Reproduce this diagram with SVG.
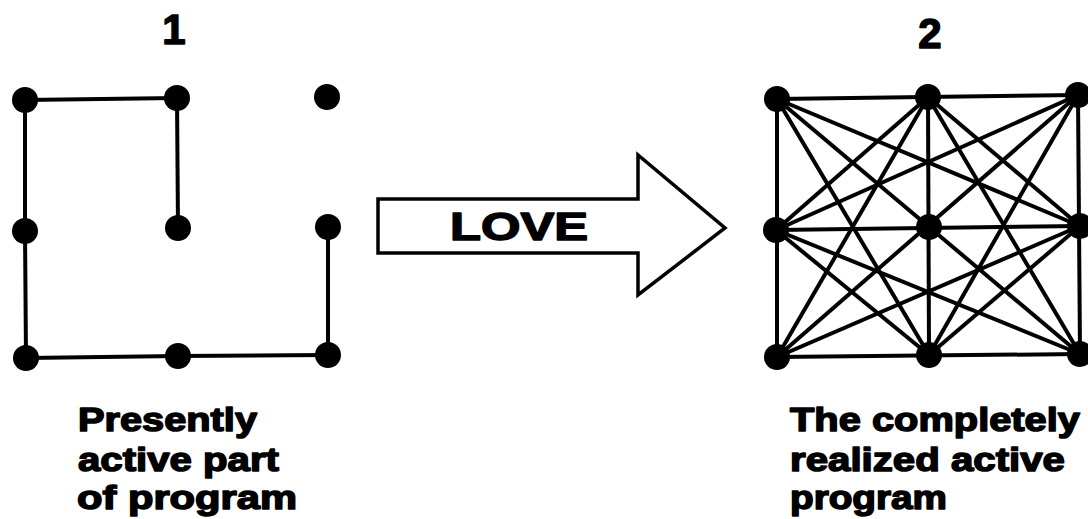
<svg xmlns="http://www.w3.org/2000/svg" width="1088" height="519" viewBox="0 0 1088 519">
<style>
.t{font-family:"Liberation Sans",Arial,sans-serif;font-weight:bold;fill:#000;stroke:#000;stroke-width:1.5;stroke-linejoin:round}
.e{stroke:#000;stroke-width:4;fill:none}
.d{fill:#000}
</style>
<rect width="1088" height="519" fill="#fff"/>
<text class="t" x="174" y="44" font-size="42" text-anchor="middle">1</text>
<text class="t" x="930" y="48" font-size="42" text-anchor="middle">2</text>
<g id="connectors">
<g id="left-edges" class="e">
<line x1="25" y1="100" x2="177" y2="98"/>
<line x1="25" y1="100" x2="25" y2="231"/>
<line x1="25" y1="231" x2="26" y2="358"/>
<line x1="177" y1="98" x2="178" y2="228"/>
<line x1="26" y1="358" x2="178" y2="356"/>
<line x1="178" y1="356" x2="328" y2="355"/>
<line x1="328" y1="355" x2="328" y2="227"/>
</g>
<g id="right-edges" class="e">
<line x1="777" y1="99" x2="1078" y2="95"/>
<line x1="776" y1="230" x2="1080" y2="226"/>
<line x1="777" y1="357" x2="1080" y2="354"/>
<line x1="777" y1="99" x2="777" y2="357"/>
<line x1="928" y1="97" x2="929" y2="355"/>
<line x1="1078" y1="95" x2="1080" y2="354"/>
<line x1="777" y1="99" x2="1080" y2="354"/>
<line x1="1078" y1="95" x2="777" y2="357"/>
<line x1="777" y1="99" x2="1080" y2="226"/>
<line x1="777" y1="99" x2="929" y2="355"/>
<line x1="928" y1="97" x2="776" y2="230"/>
<line x1="928" y1="97" x2="1080" y2="226"/>
<line x1="928" y1="97" x2="777" y2="357"/>
<line x1="928" y1="97" x2="1080" y2="354"/>
<line x1="1078" y1="95" x2="776" y2="230"/>
<line x1="1078" y1="95" x2="929" y2="355"/>
<line x1="776" y1="230" x2="929" y2="355"/>
<line x1="776" y1="230" x2="1080" y2="354"/>
<line x1="1080" y1="226" x2="929" y2="355"/>
<line x1="1080" y1="226" x2="777" y2="357"/>
</g>
</g>
<g id="left-grid">
<circle id="l1" class="d" cx="25" cy="100" r="13"/>
<circle id="l2" class="d" cx="177" cy="98" r="13"/>
<circle id="l3" class="d" cx="327" cy="97" r="13"/>
<circle id="l4" class="d" cx="25" cy="231" r="13"/>
<circle id="l5" class="d" cx="178" cy="228" r="13"/>
<circle id="l6" class="d" cx="328" cy="227" r="13"/>
<circle id="l7" class="d" cx="26" cy="358" r="13"/>
<circle id="l8" class="d" cx="178" cy="356" r="13"/>
<circle id="l9" class="d" cx="328" cy="355" r="13"/>
</g>
<g id="right-grid">
<circle id="r1" class="d" cx="777" cy="99" r="13"/>
<circle id="r2" class="d" cx="928" cy="97" r="13"/>
<circle id="r3" class="d" cx="1078" cy="95" r="13"/>
<circle id="r4" class="d" cx="776" cy="230" r="13"/>
<circle id="r5" class="d" cx="929" cy="227" r="13"/>
<circle id="r6" class="d" cx="1080" cy="226" r="13"/>
<circle id="r7" class="d" cx="777" cy="357" r="13"/>
<circle id="r8" class="d" cx="929" cy="355" r="13"/>
<circle id="r9" class="d" cx="1080" cy="354" r="13"/>
</g>
<g id="love-arrow">
<polygon points="378,199 638,199 638,155 725,228 638,295 638,253 378,253" fill="#fff" stroke="#000" stroke-width="3.5" stroke-linejoin="miter"/>
<text class="t" x="450" y="240" font-size="39" textLength="138" lengthAdjust="spacingAndGlyphs">LOVE</text>
</g>
<g id="left-caption">
<text class="t" x="78" y="431" font-size="33" textLength="179" lengthAdjust="spacingAndGlyphs">Presently</text>
<text class="t" x="78" y="471" font-size="33" textLength="201" lengthAdjust="spacingAndGlyphs">active part</text>
<text class="t" x="77" y="509" font-size="33" textLength="220" lengthAdjust="spacingAndGlyphs">of program</text>
</g>
<g id="right-caption">
<text class="t" x="790" y="431" font-size="33" textLength="290" lengthAdjust="spacingAndGlyphs">The completely</text>
<text class="t" x="790" y="471" font-size="33" textLength="275" lengthAdjust="spacingAndGlyphs">realized active</text>
<text class="t" x="790" y="509" font-size="33" textLength="157" lengthAdjust="spacingAndGlyphs">program</text>
</g>
</svg>
